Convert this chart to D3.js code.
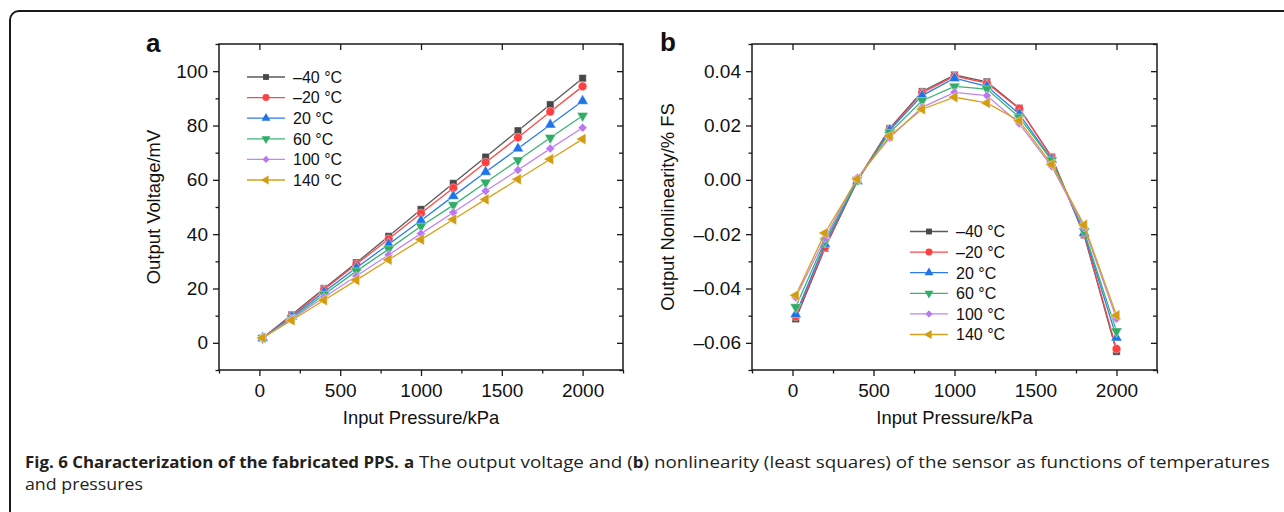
<!DOCTYPE html>
<html><head><meta charset="utf-8">
<script src="https://cdn.jsdelivr.net/npm/d3@7"></script>
<style>
html,body{margin:0;padding:0;background:#fff;}
svg{display:block;}
</style></head>
<body>
<svg id="c" width="1284" height="512"></svg>
<script>
// ---- data ----
const pressures = [20, 200, 400, 600, 800, 1000, 1200, 1400, 1600, 1800, 2000];
const seriesNames = ["\u201340 \u00b0C", "\u201320 \u00b0C", "20 \u00b0C", "60 \u00b0C", "100 \u00b0C", "140 \u00b0C"];

const voltM40 = [1.8, 10.3, 20.0, 29.5, 39.2, 49.1, 58.7, 68.4, 78.1, 87.7, 97.4];
const voltM20 = [1.8, 10.0, 19.6, 28.9, 38.2, 47.7, 57.0, 66.4, 75.6, 85.1, 94.4];
const volt20  = [1.8, 9.6, 18.7, 27.6, 36.3, 45.0, 54.0, 62.9, 71.5, 80.3, 89.0];
const volt60  = [1.8, 9.1, 17.8, 26.4, 34.5, 42.9, 50.7, 59.0, 67.2, 75.5, 83.6];
const volt100 = [1.8, 8.8, 16.8, 24.6, 32.4, 40.2, 48.0, 55.9, 63.6, 71.5, 79.2];
const volt140 = [1.8, 8.3, 15.7, 23.1, 30.6, 38.0, 45.4, 52.8, 60.2, 67.6, 75.0];

const nlM40 = [-0.0512, -0.0252, -0.0003, 0.0189, 0.0325, 0.0386, 0.0361, 0.0264, 0.0084, -0.0203, -0.0632];
const nlM20 = [-0.0503, -0.0248, -0.0002, 0.0187, 0.0320, 0.0382, 0.0356, 0.0262, 0.0083, -0.0201, -0.0622];
const nl20  = [-0.0495, -0.0236, -0.0005, 0.0183, 0.0310, 0.0374, 0.0344, 0.0242, 0.0075, -0.0196, -0.0581];
const nl60  = [-0.0468, -0.0225, 0.0000, 0.0174, 0.0291, 0.0344, 0.0334, 0.0230, 0.0072, -0.0189, -0.0557];
const nl100 = [-0.0433, -0.0215, 0.0008, 0.0155, 0.0267, 0.0322, 0.0310, 0.0207, 0.0050, -0.0175, -0.0511];
const nl140 = [-0.0425, -0.0196, 0.0003, 0.0161, 0.0260, 0.0304, 0.0283, 0.0217, 0.0057, -0.0166, -0.0499];

const xTicks = [0, 500, 1000, 1500, 2000];
const xMinor = [-250, 250, 750, 1250, 1750, 2250];
const yTicksA = [0, 20, 40, 60, 80, 100];
const yMinorA = [-10, 10, 30, 50, 70, 90, 110];
const yTicksB = [-0.06, -0.04, -0.02, 0.00, 0.02, 0.04];
const yMinorB = [-0.07, -0.05, -0.03, -0.01, 0.01, 0.03, 0.05];

const captionParts = [
  ["Fig. 6 Characterization of the fabricated PPS.", true],
  [" ", false], ["a", true],
  [" The output voltage and (", false], ["b", true],
  [") nonlinearity (least squares) of the sensor as functions of temperatures", false]
];
const captionLine2 = "and pressures";

// ---- styles ----
const lineColors = ["#5a5a5a", "#ff4747", "#2b7de9", "#3cb371", "#c285ef", "#d6a21a"];
const markColors = ["#474747", "#ff4040", "#1f74e6", "#30ad66", "#bb78ee", "#d39c12"];
const FONT = "'Liberation Sans', Arial, Helvetica, sans-serif";
const minusFmt = s => s.replace("\u2212", "\u2013");

const svg = d3.select("#c");

// outer rounded box
svg.append("rect").attr("x", 10).attr("y", 11).attr("width", 1300).attr("height", 520)
  .attr("rx", 9).attr("fill", "none").attr("stroke", "#1a1a1a").attr("stroke-width", 2);

function markerPath(i, size) {
  const types = [d3.symbolSquare, d3.symbolCircle, d3.symbolTriangle, d3.symbolTriangle, d3.symbolSquare, d3.symbolTriangle];
  return d3.symbol().type(types[i]).size(size)();
}
const markerRot = [0, 0, 0, 180, 45, -90];

function panel(opts) {
  const {x0, x1, y0, y1, yDomain, yTicks, yMinor, yFmt, series, label, ylab, legX, legY, labX, labY, ylabX} = opts;
  const g = svg.append("g");
  const x = d3.scaleLinear().domain([-250, 2250]).range([x0, x1]);
  const y = d3.scaleLinear().domain(yDomain).range([y1, y0]);

  g.append("g").attr("transform", `translate(0,${y1})`)
    .call(d3.axisBottom(x).tickValues(xTicks).tickSize(6).tickPadding(8).tickFormat(d3.format("d")));
  g.append("g").attr("transform", `translate(0,${y1})`)
    .call(d3.axisBottom(x).tickValues(xMinor).tickSize(3.5).tickFormat(""));
  g.append("g").attr("transform", `translate(0,${y0})`)
    .call(d3.axisBottom(x).tickValues(xTicks).tickSize(6).tickFormat(""));
  g.append("g").attr("transform", `translate(${x0},0)`)
    .call(d3.axisLeft(y).tickValues(yTicks).tickSize(6).tickPadding(5).tickFormat(d => minusFmt(yFmt(d))));
  g.append("g").attr("transform", `translate(${x0},0)`)
    .call(d3.axisLeft(y).tickValues(yMinor).tickSize(3.5).tickFormat(""));
  g.append("g").attr("transform", `translate(${x1},0)`)
    .call(d3.axisLeft(y).tickValues(yTicks).tickSize(6).tickFormat(""));
  g.append("g").attr("transform", `translate(${x1},0)`)
    .call(d3.axisLeft(y).tickValues(yMinor).tickSize(4).tickFormat(""));

  g.selectAll(".domain").remove();
  g.selectAll(".tick line").attr("stroke", "#1a1a1a").attr("stroke-width", 1.3);
  g.selectAll(".tick text").attr("font-family", FONT).attr("font-size", 19).attr("fill", "#111");

  g.append("rect").attr("x", x0).attr("y", y0).attr("width", x1 - x0).attr("height", y1 - y0)
    .attr("fill", "none").attr("stroke", "#1a1a1a").attr("stroke-width", 1.5);

  const line = d3.line().x(d => x(d[0])).y(d => y(d[1]));
  series.forEach((vals, i) => {
    const pts = pressures.map((p, k) => [p, vals[k]]);
    g.append("path").attr("d", line(pts)).attr("fill", "none")
      .attr("stroke", lineColors[i]).attr("stroke-width", 1.3);
    g.selectAll(null).data(pts).enter().append("path")
      .attr("d", markerPath(i, i === 1 ? 58 : (i === 4 ? 40 : 54)))
      .attr("transform", d => `translate(${x(d[0])},${y(d[1])}) rotate(${markerRot[i]})`)
      .attr("fill", markColors[i]).attr("stroke", "#fff").attr("stroke-width", 0.4);
  });

  seriesNames.forEach((nm, i) => {
    const ly = legY + i * 20.6;
    g.append("line").attr("x1", legX).attr("x2", legX + 38).attr("y1", ly).attr("y2", ly)
      .attr("stroke", lineColors[i]).attr("stroke-width", 1.3);
    g.append("path").attr("d", markerPath(i, i === 1 ? 38 : (i === 4 ? 26 : 34)))
      .attr("transform", `translate(${legX + 19},${ly}) rotate(${markerRot[i]})`)
      .attr("fill", markColors[i]);
    g.append("text").attr("x", legX + 46).attr("y", ly + 5.8).text(nm)
      .attr("font-family", FONT).attr("font-size", 16).attr("fill", "#111");
  });

  g.append("text").attr("x", (x0 + x1) / 2).attr("y", 424).attr("text-anchor", "middle")
    .attr("font-family", FONT).attr("font-size", 18.4).attr("fill", "#111").text("Input Pressure/kPa");
  g.append("text").attr("transform", `translate(${ylabX},${(y0 + y1) / 2}) rotate(-90)`)
    .attr("text-anchor", "middle").attr("font-family", FONT).attr("font-size", 18.4)
    .attr("fill", "#111").text(ylab);
  g.append("text").attr("x", labX).attr("y", labY).attr("font-family", FONT).attr("font-weight", "bold")
    .attr("font-size", 26).attr("fill", "#111").text(label);
}

panel({x0: 219, x1: 623, y0: 44, y1: 370, yDomain: [-10, 110], yTicks: yTicksA, yMinor: yMinorA,
  yFmt: d3.format("d"), series: [voltM40, voltM20, volt20, volt60, volt100, volt140],
  label: "a", ylab: "Output Voltage/mV", legX: 247, legY: 77, labX: 146, labY: 52, ylabX: 160});

panel({x0: 752, x1: 1157, y0: 44, y1: 370, yDomain: [-0.07, 0.05], yTicks: yTicksB, yMinor: yMinorB,
  yFmt: d3.format(".2f"), series: [nlM40, nlM20, nl20, nl60, nl100, nl140],
  label: "b", ylab: "Output Nonlinearity/% FS", legX: 910, legY: 231.5, labX: 660, labY: 51, ylabX: 674});

// caption: bold and normal segments condensed separately
const CAP = "'Open Sans', 'Noto Sans', sans-serif";
const CAPSIZE = 16.5;
function measure(txt, bold) {
  const t = svg.append("text").attr("font-family", CAP).attr("font-size", CAPSIZE)
    .attr("font-weight", bold ? "bold" : "normal").attr("xml:space", "preserve").text(txt);
  const w = t.node().getComputedTextLength();
  t.remove();
  return w;
}
const startX = 25, endX = 1270, boldEnd = 399;
const wb0 = measure(captionParts[0][0], true);
const kb = (boldEnd - startX) / wb0;
let boldW = 0, normW = 0;
captionParts.slice(1).forEach(p => { const w = measure(p[0], p[1]); if (p[1]) boldW += w * kb; else normW += w; });
const kn = (endX - boldEnd - boldW) / normW;
let cx = startX;
captionParts.forEach(p => {
  const w = measure(p[0], p[1]);
  const k = p[1] ? kb : kn;
  svg.append("text").attr("font-family", CAP).attr("font-size", CAPSIZE)
    .attr("font-weight", p[1] ? "bold" : "normal").attr("fill", "#231f20")
    .attr("xml:space", "preserve")
    .attr("transform", `translate(${cx},468) scale(${k},1)`).text(p[0]);
  cx += w * k;
});
const w2 = measure(captionLine2, false);
svg.append("text").attr("font-family", CAP).attr("font-size", CAPSIZE).attr("fill", "#231f20")
  .attr("transform", `translate(${startX},490) scale(${118 / w2},1)`).text(captionLine2);
</script>
</body></html>
